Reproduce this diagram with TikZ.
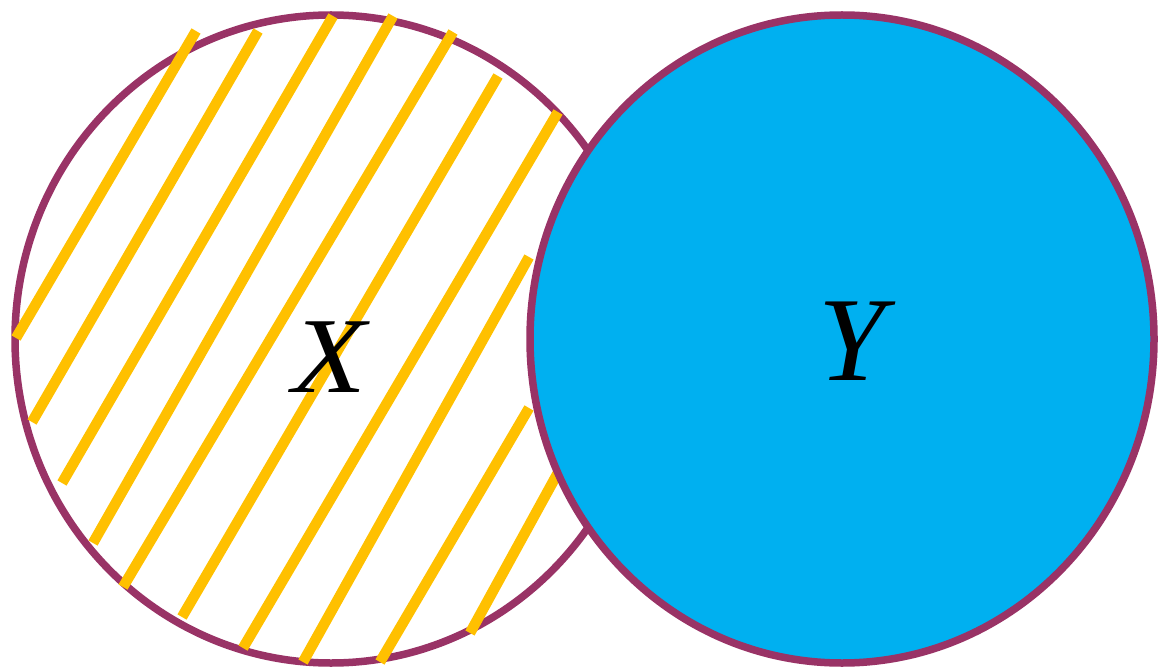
\documentclass[tikz,border=0pt]{standalone}
\usepackage{fontspec}
\setmainfont{Liberation Serif}
\definecolor{rim}{RGB}{153,51,102}
\definecolor{skyfill}{RGB}{0,176,240}
\definecolor{hatchyellow}{RGB}{255,192,0}
\begin{document}
\begin{tikzpicture}[x=1pt,y=-1pt,
  rimline/.style={draw=rim,line width=7.5pt},
  hatchline/.style={draw=hatchyellow,line width=10.5pt,line cap=butt},
  setlabel/.style={inner sep=0pt,anchor=base,text=black}]
\useasboundingbox (0,0) rectangle (1158,668);
% left set X
\draw[rimline] (331,339) ellipse [x radius=316, y radius=324];
% hatching
\draw[hatchline] (16,338) -- (196,31);
\draw[hatchline] (32,422) -- (258,31);
\draw[hatchline] (62,483) -- (333,16);
\draw[hatchline] (93,543) -- (393,16);
\draw[hatchline] (123,587) -- (453,32);
\draw[hatchline] (182,617) -- (498,76);
\draw[hatchline] (243,648) -- (558,112);
\draw[hatchline] (303,662) -- (529,257);
\draw[hatchline] (380,662) -- (529,408);
\draw[hatchline] (470,633) -- (560,469);
% right set Y
\draw[rimline,fill=skyfill] (842,339) ellipse [x radius=312, y radius=324];
\node[setlabel,font=\fontsize{108}{108}\selectfont\itshape,xscale=1.12,transform shape] (labx) at (329,392) {X};
\node[setlabel,font=\fontsize{120}{120}\selectfont\itshape] (laby) at (852,380) {Y};
\end{tikzpicture}
\end{document}
